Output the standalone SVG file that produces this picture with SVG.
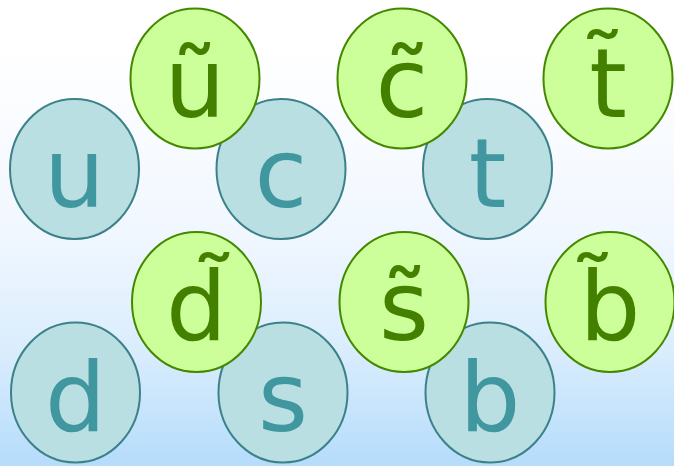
<svg xmlns="http://www.w3.org/2000/svg" width="674" height="466" viewBox="0 0 674 466">
<defs>
<linearGradient id="bg" x1="0" y1="0" x2="0" y2="1">
<stop offset="0" stop-color="#ffffff"/>
<stop offset="0.1" stop-color="#ffffff"/>
<stop offset="0.5" stop-color="#f1f7ff"/>
<stop offset="0.75" stop-color="#daedfd"/>
<stop offset="1" stop-color="#b5dcfb"/>
</linearGradient>
</defs>
<style>
.q ellipse{fill:#b9dfe3;stroke:#3c8189;stroke-width:2}
.q text{fill:#41979f}
.sq ellipse{fill:#ccff99;stroke:#448800;stroke-width:2}
.sq text{fill:#448000}
text{font-family:"DejaVu Sans",sans-serif;font-size:96px;text-anchor:middle}
</style>
<rect width="674" height="466" fill="url(#bg)"/>
<g id="u" class="q"><ellipse cx="74.5" cy="169" rx="64.5" ry="70"/><text x="74.5" y="207">u</text></g>
<g id="c" class="q"><ellipse cx="281" cy="169" rx="64.5" ry="70"/><text x="281" y="207">c</text></g>
<g id="t" class="q"><ellipse cx="487.5" cy="169" rx="64.5" ry="70"/><text x="487.5" y="207">t</text></g>
<g id="d" class="q"><ellipse cx="75.5" cy="392.5" rx="64.5" ry="70"/><text x="75.5" y="431">d</text></g>
<g id="s" class="q"><ellipse cx="283" cy="392.5" rx="64.5" ry="70"/><text x="283" y="431">s</text></g>
<g id="b" class="q"><ellipse cx="490" cy="392.5" rx="64.5" ry="70"/><text x="490" y="431">b</text></g>
<g id="u-tilde" class="sq"><ellipse cx="195" cy="78.5" rx="64.5" ry="70"/><text x="195" y="117">ũ</text></g>
<g id="c-tilde" class="sq"><ellipse cx="402" cy="78.5" rx="64.5" ry="70"/><text x="402" y="117">c̃</text></g>
<g id="t-tilde" class="sq"><ellipse cx="608" cy="78.5" rx="64.5" ry="70"/><text x="608" y="117">t̃</text></g>
<g id="d-tilde" class="sq"><ellipse cx="196.5" cy="302" rx="64.5" ry="70"/><text x="196.5" y="340">d̃</text></g>
<g id="s-tilde" class="sq"><ellipse cx="404" cy="302" rx="64.5" ry="70"/><text x="404" y="340">s̃</text></g>
<g id="b-tilde" class="sq"><ellipse cx="610" cy="302" rx="64.5" ry="70"/><text x="610" y="340">b̃</text></g>
<g id="connectors"/>
</svg>
